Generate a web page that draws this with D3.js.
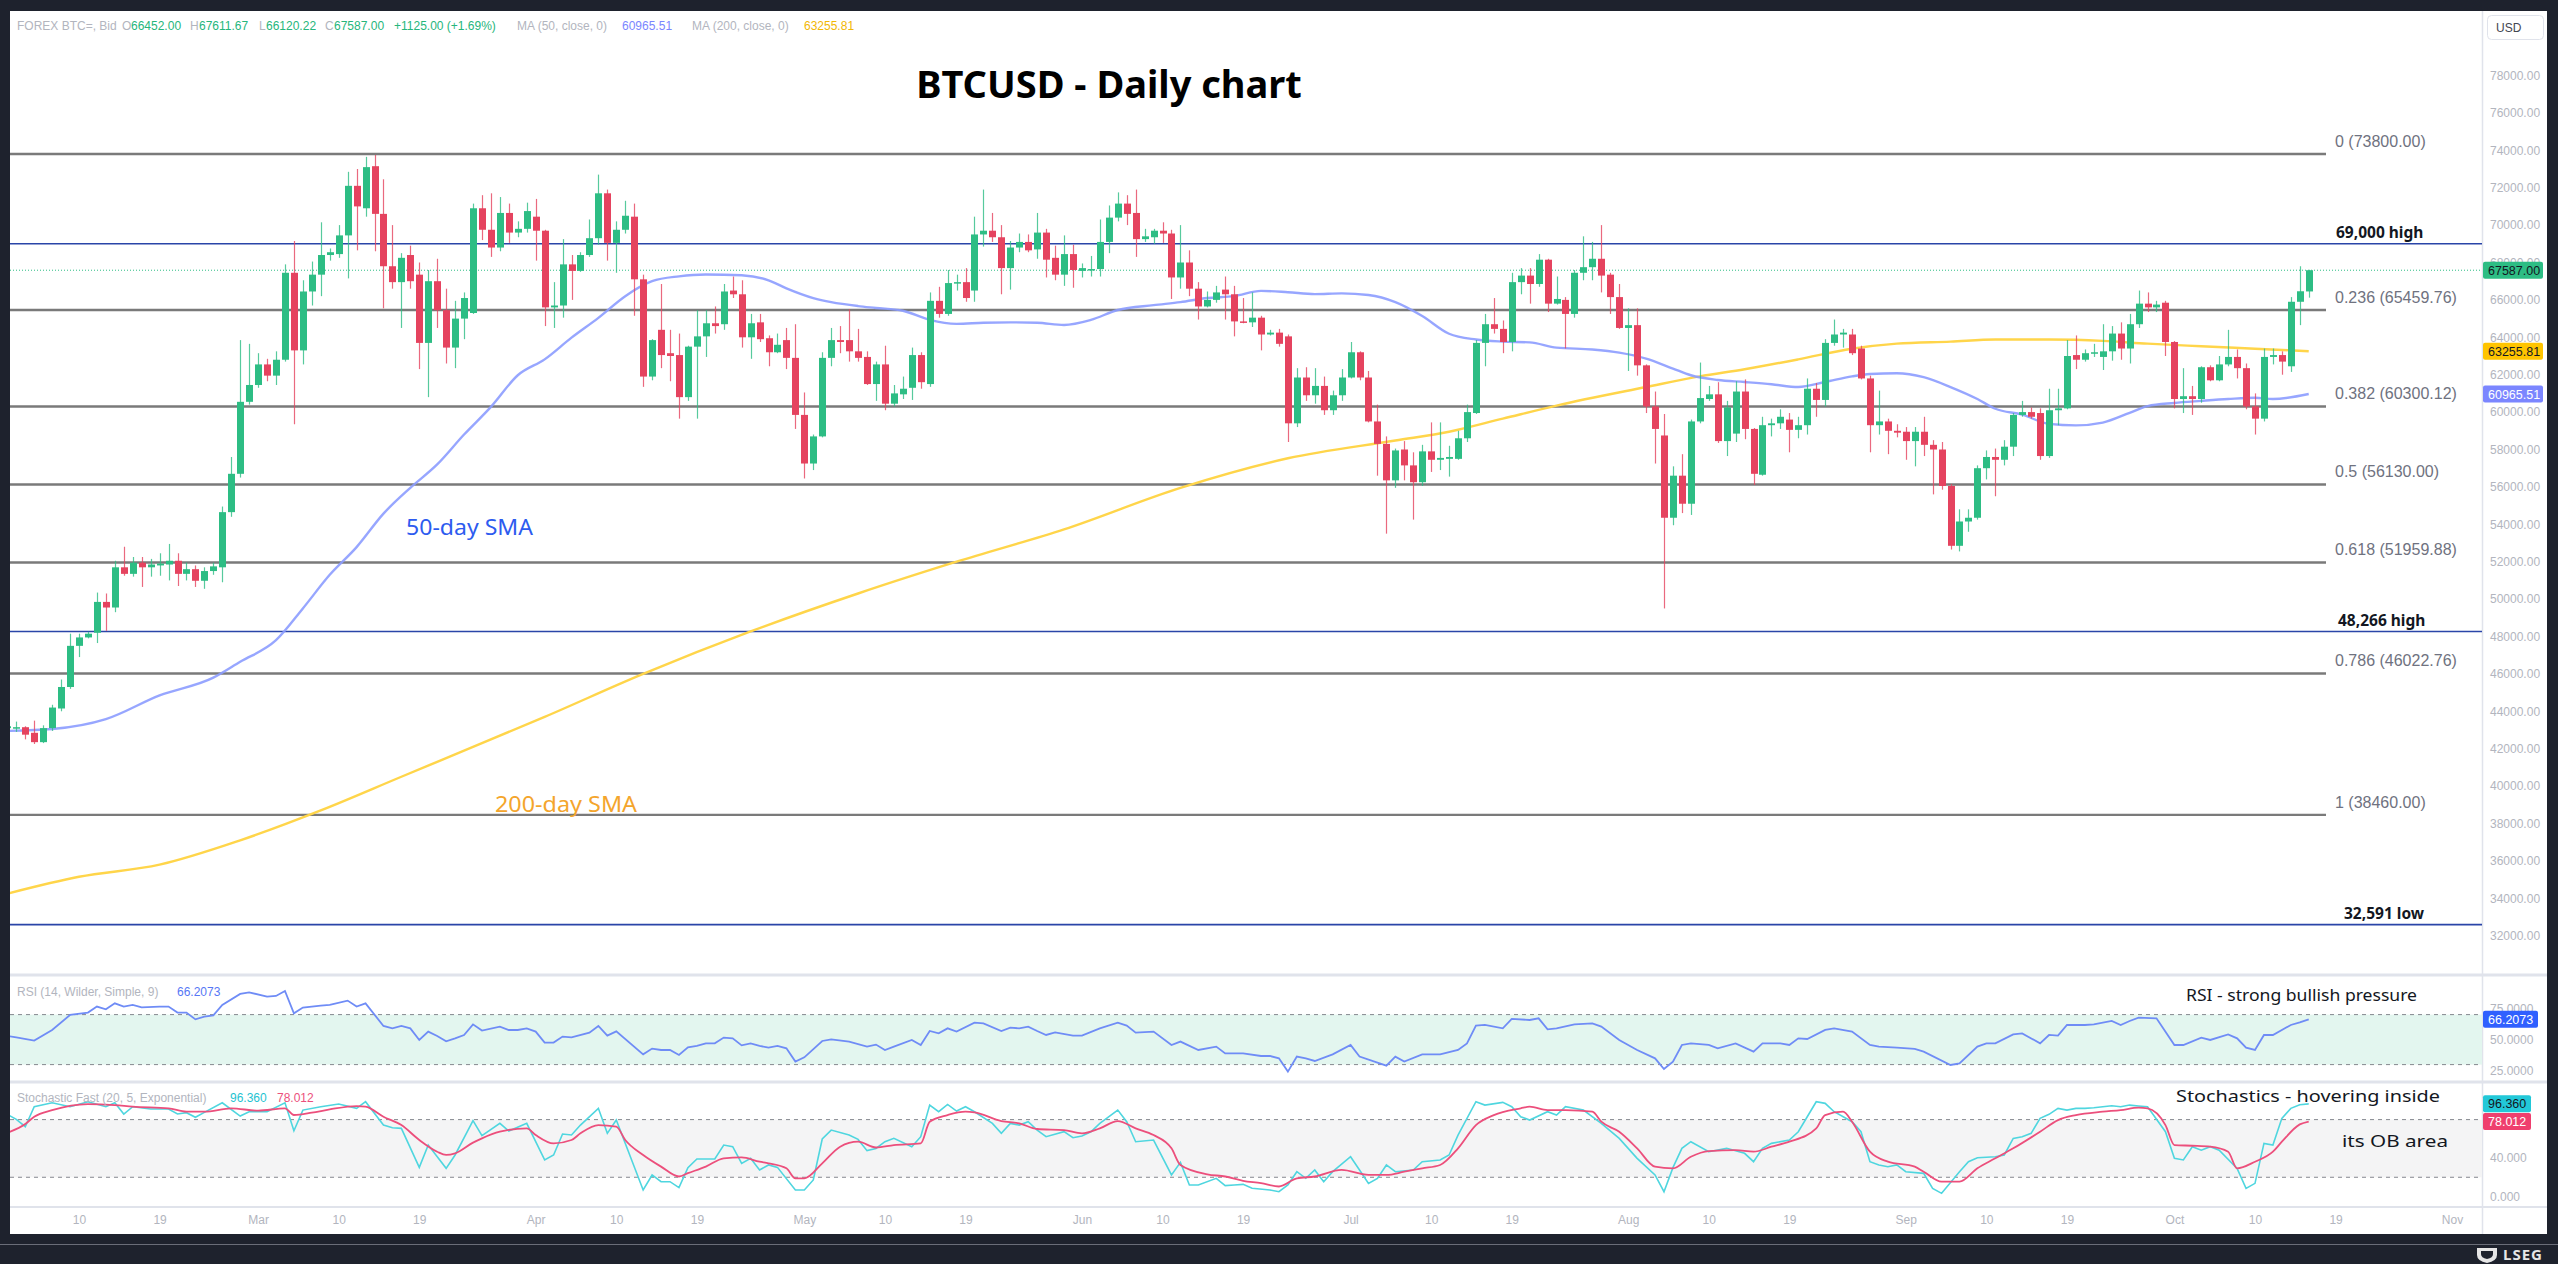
<!DOCTYPE html>
<html>
<head>
<meta charset="utf-8">
<title>BTCUSD - Daily chart</title>
<script src="https://cdn.jsdelivr.net/npm/d3@7"></script>
<style>
    html, body { margin: 0; padding: 0; background: #1e222d; }
    svg { display: block; }
</style>
</head>
<body>
<div class="svg-container"></div>
<script>
// ---- data ----
var firstDay = "2024-02-02";

var opens = [43100,43100,43150,42850,42350,43100,44150,45300,47500,47950,
    48200,49850,49550,51700,51350,51950,51700,51800,51850,52050,
    51350,51600,50980,51500,51700,54650,56700,60550,61450,62550,
    61950,62800,67450,63300,66450,67350,68400,68450,69450,72100,
    70900,73150,70600,67800,66950,68400,67350,63700,67000,65450,
    63450,65000,65300,70900,69750,68800,70650,69600,69800,70450,
    69700,65600,65700,67900,67550,68400,69300,71700,69050,69750,
    70450,67100,61900,64400,63150,63050,60800,63500,64050,64750,
    64700,66500,66300,64000,64800,63950,63200,63850,62900,59850,
    57250,58700,62900,63850,63850,63250,62950,61500,62550,60450,
    60950,61300,63050,61500,65950,65250,66900,66950,66500,69500,
    69700,69350,67700,68800,69100,68700,69600,68250,67350,68450,
    67550,67600,67650,69100,70400,71150,70650,69250,69350,69700,
    69550,67200,68000,66600,65650,66000,66550,66300,64850,64800,
    65050,64150,64250,64050,59400,61850,60900,61400,60100,60900,
    61850,63200,61850,59500,58300,56350,58000,57150,56250,57900,
    57450,57500,57500,58600,59950,63700,64700,64450,63750,66950,
    67300,66850,68150,65800,66000,65250,67450,67750,68200,67350,
    66150,64500,64650,62500,60300,58750,54350,56600,55100,59500,
    60700,60950,58450,58850,61100,59100,56650,59300,59400,59600,
    59050,59300,61250,60650,63700,64150,64150,63400,61800,59300,
    59500,59000,58950,58450,58950,58250,58000,56050,52850,54150,
    54350,57000,57600,57450,58150,59850,60000,59950,57650,60100,
    60200,63050,62800,63150,62950,63250,64200,63400,64700,65800,
    65600,65850,63750,60700,60850,60700,62400,61700,62550,62950,
    62350,60300,59650,62950,63050,62450,65900,66452];

var highs = [43400,43450,43200,43500,43250,44350,45700,48150,48150,48250,
    50350,50300,52050,52800,52250,52250,52150,52450,52950,52450,
    51950,51800,51700,51950,54950,57600,63850,63650,63150,62850,
    63250,67900,69150,67050,68050,70150,68750,70000,72850,73000,
    73650,73750,72450,70000,68500,68900,68000,67600,68200,66600,
    65950,66400,71150,71600,71700,71500,71150,70200,71200,71400,
    69750,66950,69250,68400,68550,70300,72700,71900,70200,71300,
    71150,67350,63900,66850,64400,64200,63550,65450,65450,65650,
    66850,67250,67050,65250,65250,64100,64200,64500,64700,61050,
    58800,63200,64500,64600,65500,64450,63250,62700,63550,61450,
    61900,63450,63200,66400,66700,67600,67350,67700,70450,71900,
    70650,70000,69150,69550,69500,70650,69800,68900,69450,68950,
    67950,68350,70300,71050,71750,71600,71900,69800,69800,70150,
    69750,70000,68650,66950,66450,66750,67250,66750,66100,66400,
    65150,64400,64450,64150,62350,62400,62350,61900,61150,62300,
    63750,63250,62200,60400,58700,58050,58450,57850,58250,59450,
    59450,58200,59000,60400,63850,65250,66100,64900,67450,67700,
    67700,68450,68200,67250,66150,67600,69400,69100,70000,67450,
    66850,65550,65550,62550,61100,59900,57100,57750,59600,62650,
    61400,61600,60600,61650,61750,59150,59750,59650,60150,59950,
    59750,61800,61550,63900,64950,64450,64450,63550,61950,61150,
    59650,59350,59200,59200,59750,58500,58400,56150,54800,54800,
    57150,57950,58050,58500,59950,60600,60250,60200,61250,61250,
    63850,64100,63350,63650,64700,64600,64800,65250,66500,66400,
    65950,65950,63800,62350,61400,62450,62500,63000,64400,63350,
    62600,61000,63400,63400,63250,66150,67800,67611.67];

var lows = [42600,42900,42500,42250,42300,42950,44000,45200,46900,47900,
    47650,48300,49300,51250,51200,50650,51200,51250,51000,50700,
    51000,50650,50550,51300,50900,54400,56500,60400,61300,61650,
    61450,62700,59350,62550,65700,66200,68100,68250,67150,68650,
    70450,68600,65550,66600,64500,66600,62300,60800,64500,62600,
    62350,63900,65250,69200,68300,68600,69050,69350,69600,68100,
    64600,64500,65050,66000,67500,68300,68950,68100,67450,69550,
    65150,61350,61700,62350,61650,59650,60600,59650,62950,64200,
    64400,66100,63450,62850,63750,62450,63150,62300,59100,56450,
    56900,58650,62450,63150,62700,62700,61450,60600,60100,60300,
    60700,60650,61250,61350,65050,65150,66500,65900,65900,68850,
    69100,66300,66550,68550,68550,68200,67200,67050,66750,66650,
    67200,67250,67250,68500,70200,70000,68300,69100,69000,69050,
    66050,66600,66200,64950,65600,65850,64950,64050,64750,64550,
    63300,64100,63500,58400,59200,60600,60450,59850,59850,60600,
    61800,61700,59450,56600,53500,55950,56350,54250,56050,56800,
    56900,56550,57450,58400,59900,62450,64200,63150,63250,66300,
    65800,66700,65350,65750,63400,65050,67050,67050,66400,65250,
    64450,62200,61950,59950,57250,49500,53950,54600,54500,59400,
    60600,58350,57650,58400,58550,56100,56600,58700,59100,57850,
    58600,58800,59750,60300,63550,63450,63050,61750,57850,58800,
    57750,58650,57450,57100,57650,55600,55850,52650,52550,53600,
    54250,56400,55500,57150,57650,59750,59650,57450,57550,59300,
    60150,62300,62700,62950,62250,62750,62800,62600,64500,65350,
    65350,63000,60200,59950,59850,60500,61650,61650,62450,61800,
    60150,58800,59500,62550,62000,62150,64650,66120.22];

var closes = [43200,43150,42750,42350,43100,44200,45300,47500,47950,48150,
    49850,49550,51700,51350,51950,51700,51850,51900,52050,51350,
    51600,50980,51500,51750,54650,56700,60550,61450,62550,61950,
    62800,67450,63300,66450,67350,68400,68550,69450,72100,71000,
    73100,70600,67800,66950,68250,67000,63700,67000,65450,63450,
    65000,66100,70900,69750,68800,70650,69600,69800,70750,69700,
    65600,65700,67900,67550,68400,69300,71700,69050,69750,70500,
    67100,61900,63850,63050,63000,60800,63500,64050,64750,64600,
    66450,66300,64000,64750,63900,63200,63600,62900,59850,57250,
    58700,62900,63850,63750,63250,62900,61500,62550,60450,61000,
    61250,63050,61600,65950,65250,66900,66950,66100,69500,69700,
    69350,67700,68800,69100,68650,69600,68150,67350,68450,67600,
    67700,67650,69100,70400,71150,70600,69250,69400,69700,69550,
    67200,68000,66600,65650,66000,66400,66300,64850,64800,65050,
    64150,64250,63650,59400,61850,60900,61400,60100,60900,61850,
    63200,61850,59500,58300,56350,57950,57150,56250,57900,57450,
    57550,57600,58600,60000,63700,64700,64450,63750,66950,67300,
    66850,68150,65800,66050,65250,67450,67750,68200,67300,66150,
    64500,64650,62500,60300,59100,54350,56600,55100,59500,60750,
    60950,58450,60250,61100,59100,56700,59300,59400,59750,59050,
    59300,61250,60650,63700,64150,64250,63150,61800,59300,59500,
    59000,58900,58450,58950,58250,58000,56050,52850,54150,54350,
    57000,57600,57450,58150,59850,60000,59750,57650,60100,60200,
    63000,62800,63150,63200,63250,64200,63400,64700,65800,65600,
    65750,63750,60700,60850,60700,62400,61700,62550,62950,62350,
    60300,59650,62950,63050,62700,65900,66462,67587];

// moving averages: [day index, value]
var ma50 = [[0,42950],[5,43050],[11,43580],[17,44850],[23,45800],[26,46650],[30,47800],[33,49500],
    [36,51300],[39,52780],[42,54570],[45,55950],[48,57200],[51,58800],[54,60280],[57,61970],
    [60,62820],[63,63980],[66,65040],[69,66200],[72,67000],[75,67260],[78,67360],[82,67320],
    [85,67050],[87,66620],[90,66100],[92,65880],[95,65670],[97,65570],[100,65420],[103,64930],
    [106,64720],[109,64780],[112,64800],[115,64780],[118,64660],[121,64930],[124,65460],[128,65720],
    [131,65880],[134,66100],[137,66200],[140,66480],[143,66410],[146,66310],[149,66350],[152,66260],
    [155,65880],[158,65140],[161,64190],[164,63880],[167,63770],[170,63730],[173,63450],[177,63350],
    [180,63180],[183,62860],[186,62330],[188,61970],[191,61720],[194,61610],[197,61490],[200,61340],
    [203,61610],[206,61910],[208,62040],[211,62080],[214,61870],[217,61340],[220,60700],[222,60180],
    [225,59860],[228,59370],[231,59290],[234,59440],[237,59960],[239,60320],[242,60490],[245,60600],
    [248,60700],[251,60770],[253,60700],[257,60965.51]];

var ma200 = [[0,34250],[8,35150],[17,35800],[26,37100],[35,38700],[44,40500],[48,41300],[60,43700],
    [71,46000],[83,48270],[95,50300],[106,52000],[118,53730],[131,55950],[143,57530],[155,58480],
    [161,58950],[167,59650],[173,60350],[183,61340],[189,61910],[194,62290],[200,62820],[206,63390],
    [211,63660],[217,63770],[222,63880],[228,63880],[234,63810],[239,63660],[245,63520],[251,63390],
    [257,63255.81]];

// RSI (14): [day index, value]
var rsi = [[0,52.9],[1,51.8],[3,49.2],[5,57.7],[7,69.7],[9,71.6],[10,76.4],[11,74.2],[12,79.0],[13,76.4],
    [14,77.7],[15,75.8],[17,76.4],[18,76.4],[19,71.6],[20,71.6],[21,66.2],[22,68.4],[23,69.4],[24,77.7],
    [26,86.5],[27,87.8],[29,84.4],[30,84.9],[31,88.9],[32,71.0],[33,75.6],[35,77.2],[36,77.7],[38,81.2],
    [39,76.4],[40,79.0],[42,60.9],[43,59.0],[44,60.9],[45,59.0],[46,49.7],[47,56.4],[48,52.9],[49,48.6],
    [50,51.0],[51,53.7],[52,62.2],[53,57.2],[55,60.4],[56,57.7],[57,57.7],[58,59.0],[59,56.4],[60,47.6],
    [61,47.6],[62,52.4],[63,51.8],[65,55.6],[66,60.9],[67,53.2],[68,56.6],[71,38.2],[72,42.8],[73,41.7],
    [74,41.7],[75,37.7],[76,43.8],[77,44.9],[78,47.0],[79,47.0],[80,51.6],[81,51.0],[82,45.4],[83,47.0],
    [84,44.9],[85,43.6],[86,44.9],[87,43.0],[88,32.4],[89,35.8],[91,48.9],[92,50.2],[94,48.4],[96,44.4],
    [97,46.0],[98,41.7],[99,44.4],[101,49.7],[102,45.7],[103,56.9],[104,55.0],[105,59.0],[106,56.4],[108,63.6],
    [109,63.0],[111,56.9],[112,59.6],[113,59.0],[114,60.4],[115,56.9],[116,53.7],[117,55.8],[119,53.2],[120,53.2],
    [122,59.0],[124,63.6],[125,61.2],[126,55.6],[128,56.4],[130,45.7],[131,48.4],[133,41.7],[135,44.4],[136,39.0],
    [138,39.0],[140,36.9],[141,36.9],[142,35.0],[143,24.4],[144,36.4],[145,35.0],[146,32.9],[148,38.2],[150,45.7],
    [151,36.4],[154,29.2],[155,36.4],[156,32.4],[158,38.2],[160,38.2],[162,41.7],[163,47.0],[164,61.2],[165,61.7],
    [167,59.0],[168,66.5],[170,65.7],[171,67.0],[172,58.2],[173,59.0],[175,62.2],[177,63.0],[178,60.4],[180,49.7],
    [182,41.7],[184,35.0],[185,26.5],[186,32.4],[187,45.7],[188,47.0],[190,45.7],[191,43.0],[193,47.0],[195,40.4],
    [196,47.0],[198,47.0],[199,45.7],[200,51.0],[201,50.5],[203,57.7],[204,59.0],[206,56.4],[208,45.7],[209,44.4],
    [211,43.6],[213,42.5],[214,40.4],[217,29.7],[218,31.0],[220,44.4],[221,47.0],[222,47.0],[224,54.2],[225,55.0],
    [227,47.0],[228,53.7],[229,53.2],[230,61.7],[232,61.7],[233,62.2],[235,64.9],[236,61.7],[237,64.9],[238,67.6],
    [240,67.0],[242,45.7],[243,45.7],[245,51.6],[246,49.7],[248,54.2],[249,51.0],[250,43.6],[251,41.7],[252,53.7],
    [253,53.7],[255,61.7],[256,63.8],[257,66.2073]];

// Stochastic fast %K and %D: [day index, value]
var stochK = [[0,85.5],[1,80.2],[2,72.6],[3,93.4],[5,97.5],[7,93.4],[9,98.6],[11,93.4],[12,97.5],[13,85.8],
    [14,93.4],[16,91.0],[18,91.0],[19,85.8],[20,87.2],[21,82.4],[22,87.5],[24,97.5],[26,83.7],[27,88.2],
    [29,88.2],[31,97.5],[32,68.4],[33,89.9],[35,93.4],[37,96.2],[39,91.7],[40,98.6],[42,74.3],[43,71.6],
    [44,70.9],[46,30.3],[47,53.5],[49,29.3],[50,43.2],[52,78.9],[53,63.3],[55,76.1],[56,68.1],[58,76.1],
    [60,38.0],[61,43.2],[62,65.0],[63,64.0],[64,74.3],[66,91.7],[67,65.7],[68,79.6],[71,6.8],[72,22.4],
    [73,15.4],[74,15.4],[75,9.2],[76,30.0],[77,39.0],[79,39.0],[80,53.5],[81,51.8],[82,34.5],[83,39.7],
    [84,27.6],[85,32.8],[86,30.3],[88,6.8],[89,6.8],[90,17.2],[91,59.8],[92,69.1],[94,64.0],[95,59.4],
    [96,47.7],[97,50.0],[98,57.0],[99,60.5],[101,51.8],[102,62.2],[103,95.1],[104,88.2],[105,95.8],[106,88.9],
    [107,93.4],[108,88.2],[110,76.1],[111,65.7],[112,76.1],[113,74.3],[114,77.8],[115,69.1],[116,62.2],[118,67.4],
    [119,61.1],[120,62.9],[121,67.4],[122,76.1],[124,89.9],[125,77.8],[126,57.0],[128,58.7],[130,22.4],[131,35.5],
    [132,12.0],[133,12.0],[135,18.9],[136,11.3],[137,12.0],[138,12.6],[139,8.5],[141,6.8],[142,5.0],[143,12.0],
    [144,25.8],[145,18.9],[146,27.6],[147,15.4],[148,25.8],[150,41.4],[151,27.6],[152,13.7],[153,18.9],[154,32.8],
    [155,25.8],[157,27.6],[158,36.2],[160,38.0],[161,43.2],[162,63.9],[164,98.6],[165,95.1],[167,97.9],[168,93.4],
    [169,83.0],[170,79.5],[172,88.2],[173,84.7],[174,93.4],[176,89.9],[178,76.1],[180,60.5],[182,39.7],[184,22.4],
    [185,5.0],[186,30.0],[187,50.1],[188,57.0],[190,46.6],[192,50.1],[194,44.9],[195,36.2],[196,50.1],[197,55.3],
    [199,58.7],[200,67.4],[201,83.0],[202,98.6],[203,96.9],[204,88.2],[206,77.8],[207,67.4],[208,36.2],[209,32.8],
    [210,31.0],[211,32.8],[212,25.8],[214,24.1],[215,8.5],[216,3.3],[218,25.8],[219,36.2],[220,40.3],[222,41.4],
    [223,43.2],[224,60.5],[225,62.2],[226,65.7],[227,81.3],[228,85.5],[229,91.7],[230,89.9],[231,91.7],[232,91.7],
    [233,92.4],[235,94.4],[236,93.4],[237,95.1],[238,94.2],[239,93.4],[241,67.4],[242,39.7],[243,38.0],[244,51.8],
    [245,48.2],[246,51.8],[247,48.2],[249,29.3],[250,8.5],[251,13.7],[252,55.3],[253,53.5],[254,81.3],[255,91.7],
    [256,95.5],[257,96.36]];

var stochD = [[0,66.4],[2,75.4],[3,83.0],[5,89.9],[9,96.2],[12,95.1],[14,93.4],[18,91.7],[20,88.2],[22,88.2],
    [25,91.7],[28,89.3],[31,91.7],[32,84.8],[34,87.2],[36,90.6],[39,94.1],[40,93.4],[42,83.0],[44,74.3],
    [46,58.8],[48,46.6],[49,43.2],[50,44.9],[52,56.0],[53,60.5],[55,67.4],[58,70.9],[59,64.0],[61,55.3],
    [63,58.8],[64,65.7],[66,74.3],[68,72.6],[69,58.8],[71,43.2],[73,31.1],[75,20.8],[76,24.3],[78,31.1],
    [80,39.7],[82,40.7],[84,36.2],[85,34.5],[87,29.3],[88,18.9],[89,18.9],[91,34.5],[93,51.8],[95,57.0],
    [97,51.0],[99,53.5],[102,55.3],[103,77.8],[105,84.7],[107,88.2],[108,87.5],[111,78.5],[113,76.1],[115,70.2],
    [118,69.1],[120,65.7],[122,70.9],[124,78.5],[126,70.9],[128,63.9],[130,50.1],[131,32.8],[134,23.1],[136,20.8],
    [138,16.3],[140,13.9],[142,10.4],[144,18.9],[146,20.8],[149,27.6],[152,22.4],[154,22.4],[156,25.8],[158,29.3],
    [160,32.8],[162,50.1],[164,74.3],[166,84.7],[169,91.7],[170,93.4],[172,89.9],[174,89.9],[177,88.2],[178,77.8],
    [180,67.4],[182,50.1],[184,31.0],[186,29.3],[188,41.4],[190,47.3],[193,48.2],[195,46.6],[197,51.8],[199,57.0],
    [202,70.9],[203,84.7],[205,88.2],[206,77.8],[208,46.6],[210,36.2],[213,31.0],[214,25.8],[216,15.4],[218,15.4],
    [220,29.3],[222,39.7],[224,50.1],[227,67.4],[229,79.5],[231,84.7],[234,88.2],[236,89.9],[238,92.4],[239,91.7],
    [241,74.3],[242,53.5],[244,52.8],[246,51.8],[248,46.6],[249,29.3],[251,36.2],[253,46.6],[254,57.0],[256,75.0],
    [257,78.012]];

// Fibonacci retracement and marked levels
var fibRatios = [0, 0.236, 0.382, 0.5, 0.618, 0.786, 1];
var fibPrices = [73800, 65459.76, 60300.12, 56130, 51959.88, 46022.76, 38460];
var keyPrices = [69000, 48266, 32591];
var keyNames = ["69,000 high", "48,266 high", "32,591 low"];

// axis ticks
var priceTicks = d3.range(32000, 78001, 2000);
var rsiTicks = [25, 50, 75];
var stochTicks = [0, 40];
var timeTicks = ["2024-02-10","2024-02-19","2024-03-01","2024-03-10","2024-03-19","2024-04-01",
    "2024-04-10","2024-04-19","2024-05-01","2024-05-10","2024-05-19","2024-06-01","2024-06-10",
    "2024-06-19","2024-07-01","2024-07-10","2024-07-19","2024-08-01","2024-08-10","2024-08-19",
    "2024-09-01","2024-09-10","2024-09-19","2024-10-01","2024-10-10","2024-10-19","2024-11-01"];

(function() {
    var W = 2558, H = 1264;
    var left = 10, axisX = 2482, right = 2547;
    var GREEN = "#2dbd84", RED = "#e5435f";
    var small = "'Liberation Sans', Arial, sans-serif";
    var noto = "'Noto Sans', 'DejaVu Sans', sans-serif";

    var svg = null;
    var x, yPrice, yRsi, yStoch, day0;

    function dayAt(i) { return d3.utcDay.offset(day0, i); }

    function setupScales() {
        var parse = d3.utcParse("%Y-%m-%d");
        day0 = parse(firstDay);
        x = d3.scaleUtc().domain([parse("2024-02-10"), parse("2024-10-10")]).range([79, 2255]);
        yPrice = d3.scaleLinear().domain([32000, 78000]).range([935.7, 75.5]);
        yRsi = d3.scaleLinear().domain([30, 70]).range([1064.6, 1014.6]);
        yStoch = d3.scaleLinear().domain([0, 80]).range([1196.5, 1119.6]);
    }

    function cacheDom() {
        svg = d3.select(".svg-container").append("svg")
            .attr("width", W).attr("height", H)
            .attr("viewBox", "0 0 " + W + " " + H);

        var defs = svg.append("defs");
        defs.append("clipPath").attr("id", "clipMain").append("rect")
            .attr("x", left).attr("y", 12).attr("width", axisX - left).attr("height", 962);
        defs.append("clipPath").attr("id", "clipRsi").append("rect")
            .attr("x", left).attr("y", 977).attr("width", axisX - left).attr("height", 104);
        defs.append("clipPath").attr("id", "clipStoch").append("rect")
            .attr("x", left).attr("y", 1084).attr("width", axisX - left).attr("height", 122);
    }

    function drawFrame() {
        svg.append("rect").attr("width", W).attr("height", H).attr("fill", "#1e222d");
        svg.append("rect").attr("x", left).attr("y", 11)
            .attr("width", right - left).attr("height", 1223).attr("fill", "#ffffff");

        // panel separators
        [975, 1082].forEach(function(yy) {
            svg.append("line").attr("x1", left).attr("x2", right).attr("y1", yy).attr("y2", yy)
                .attr("stroke", "#e0e3eb").attr("stroke-width", 3);
        });
        svg.append("line").attr("x1", left).attr("x2", right).attr("y1", 1207).attr("y2", 1207)
            .attr("stroke", "#e0e3eb").attr("stroke-width", 2);
        svg.append("line").attr("x1", axisX + 0.5).attr("x2", axisX + 0.5).attr("y1", 11).attr("y2", 1234)
            .attr("stroke", "#e0e3eb").attr("stroke-width", 1.5);

        // footer
        svg.append("line").attr("x1", 0).attr("x2", W).attr("y1", 1244.5).attr("y2", 1244.5)
            .attr("stroke", "#6a6d78").attr("stroke-width", 1);
        var logo = svg.append("g").attr("fill", "#e6e6e6");
        logo.append("path").attr("d", "M2477,1248 h20 v7 q0,6 -10,8 q-10,-2 -10,-8 z");
        logo.append("path").attr("d", "M2481,1251 h12 v3 q0,4 -6,5 q-6,-1 -6,-5 z").attr("fill", "#1e222d");
        logo.append("text").attr("x", 2503).attr("y", 1260)
            .style("font", "bold 15px " + noto).style("letter-spacing", "1px").text("LSEG");
    }

    function drawLevels() {
        var g = svg.append("g");

        // fibonacci lines and labels
        fibPrices.forEach(function(p, k) {
            var yy = yPrice(p);
            g.append("line").attr("x1", left).attr("x2", 2326).attr("y1", yy).attr("y2", yy)
                .attr("stroke", "#7a7a7a").attr("stroke-width", 2.4);
            g.append("text").attr("x", 2335).attr("y", yy - 7)
                .attr("fill", "#6f7280").style("font", "16px " + small)
                .text(fibRatios[k] + " (" + d3.format(".2f")(p) + ")");
        });

        // marked highs / lows
        var keyX = [2336, 2338, 2344];
        keyPrices.forEach(function(p, k) {
            var yy = yPrice(p);
            g.append("line").attr("x1", left).attr("x2", axisX).attr("y1", yy).attr("y2", yy)
                .attr("stroke", "#2a45a8").attr("stroke-width", 1.6);
            g.append("text").attr("x", keyX[k]).attr("y", yy - 6)
                .attr("fill", "#131722").style("font", "bold 15.5px " + noto)
                .text(keyNames[k]);
        });

        // last price line
        var last = closes.length - 1;
        var yl = yPrice(closes[last]);
        g.append("line").attr("x1", left).attr("x2", axisX).attr("y1", yl).attr("y2", yl)
            .attr("stroke", GREEN).attr("stroke-width", 1).attr("stroke-dasharray", "1,2");
    }

    function drawMovingAverages() {
        var g = svg.append("g").attr("clip-path", "url(#clipMain)");
        var line = d3.line()
            .x(function(d) { return x(dayAt(d[0])); })
            .y(function(d) { return yPrice(d[1]); })
            .curve(d3.curveMonotoneX);
        g.append("path").datum(ma200).attr("d", line).attr("fill", "none")
            .attr("stroke", "#ffd54a").attr("stroke-width", 2.4);
        g.append("path").datum(ma50).attr("d", line).attr("fill", "none")
            .attr("stroke", "#8c9cff").attr("stroke-width", 2.4).attr("stroke-opacity", 0.9);
    }

    function drawCandles() {
        var g = svg.append("g").attr("clip-path", "url(#clipMain)");
        var idx = d3.range(opens.length);

        var c = g.selectAll("g.candle").data(idx).enter().append("g").attr("class", "candle");
        function col(i) { return closes[i] >= opens[i] ? GREEN : RED; }
        function cx(i) { return Math.round(x(dayAt(i))); }

        c.append("line")
            .attr("x1", function(i) { return cx(i) + 0.5; })
            .attr("x2", function(i) { return cx(i) + 0.5; })
            .attr("y1", function(i) { return yPrice(highs[i]); })
            .attr("y2", function(i) { return yPrice(lows[i]); })
            .attr("stroke", col).attr("stroke-width", 1.2).attr("stroke-opacity", 0.8);

        c.append("rect")
            .attr("x", function(i) { return cx(i) - 3; })
            .attr("width", 7)
            .attr("y", function(i) { return yPrice(Math.max(opens[i], closes[i])); })
            .attr("height", function(i) {
                return Math.max(1.5, Math.abs(yPrice(opens[i]) - yPrice(closes[i])));
            })
            .attr("fill", col);
    }

    function drawIndicators() {
        // RSI panel
        var r = svg.append("g");
        r.append("rect").attr("x", left).attr("width", axisX - left)
            .attr("y", yRsi(70)).attr("height", yRsi(30) - yRsi(70)).attr("fill", "#e3f6ef");
        [70, 30].forEach(function(v) {
            r.append("line").attr("x1", left).attr("x2", axisX).attr("y1", yRsi(v)).attr("y2", yRsi(v))
                .attr("stroke", "#85888f").attr("stroke-dasharray", "4,4");
        });
        var rsiLine = d3.line()
            .x(function(d) { return x(dayAt(d[0])); })
            .y(function(d) { return yRsi(d[1]); });
        r.append("g").attr("clip-path", "url(#clipRsi)")
            .append("path").datum(rsi).attr("d", rsiLine).attr("fill", "none")
            .attr("stroke", "#6f8cf6").attr("stroke-width", 1.8);

        // Stochastic panel
        var s = svg.append("g");
        s.append("rect").attr("x", left).attr("width", axisX - left)
            .attr("y", yStoch(80)).attr("height", yStoch(20) - yStoch(80)).attr("fill", "#f4f4f5");
        [80, 20].forEach(function(v) {
            s.append("line").attr("x1", left).attr("x2", axisX).attr("y1", yStoch(v)).attr("y2", yStoch(v))
                .attr("stroke", "#85888f").attr("stroke-dasharray", "4,4");
        });
        var stLine = d3.line()
            .x(function(d) { return x(dayAt(d[0])); })
            .y(function(d) { return yStoch(d[1]); });
        var sg = s.append("g").attr("clip-path", "url(#clipStoch)");
        sg.append("path").datum(stochK).attr("d", stLine).attr("fill", "none")
            .attr("stroke", "#4fd6df").attr("stroke-width", 1.6);
        sg.append("path").datum(stochD).attr("d", stLine.curve(d3.curveMonotoneX)).attr("fill", "none")
            .attr("stroke", "#ec4f7c").attr("stroke-width", 1.8);
    }

    function styleAxis(g) {
        g.select(".domain").remove();
        g.selectAll("text").attr("fill", "#b2b5be").style("font", "12px " + small);
    }

    function drawAxes() {
        var pa = d3.axisRight(yPrice).tickValues(priceTicks).tickSize(0).tickPadding(8)
            .tickFormat(d3.format(".2f"));
        styleAxis(svg.append("g").attr("transform", "translate(" + axisX + ",0)").call(pa));

        var ra = d3.axisRight(yRsi).tickValues(rsiTicks).tickSize(0).tickPadding(8)
            .tickFormat(d3.format(".4f"));
        styleAxis(svg.append("g").attr("transform", "translate(" + axisX + ",0)").call(ra));

        var sa = d3.axisRight(yStoch).tickValues(stochTicks).tickSize(0).tickPadding(8)
            .tickFormat(d3.format(".3f"));
        styleAxis(svg.append("g").attr("transform", "translate(" + axisX + ",0)").call(sa));

        var parse = d3.utcParse("%Y-%m-%d");
        var ta = d3.axisBottom(x).tickValues(timeTicks.map(parse)).tickSize(0).tickPadding(8)
            .tickFormat(function(d) {
                return d.getUTCDate() === 1 ? d3.utcFormat("%b")(d) : d3.utcFormat("%-d")(d);
            });
        styleAxis(svg.append("g").attr("transform", "translate(0,1207)").call(ta));

        // currency box
        svg.append("rect").attr("x", 2487.5).attr("y", 15.5).attr("width", 56).attr("height", 24)
            .attr("rx", 4).attr("fill", "#ffffff").attr("stroke", "#e0e3eb");
        svg.append("text").attr("x", 2496).attr("y", 32).attr("fill", "#434651")
            .style("font", "12px " + small).text("USD");
    }

    function valueBox(v, scale, fmt, fill, ink, w) {
        var yy = scale(v);
        svg.append("rect").attr("x", axisX + 1).attr("y", yy - 8.5).attr("width", w).attr("height", 17)
            .attr("rx", 2).attr("fill", fill);
        svg.append("text").attr("x", axisX + 6).attr("y", yy + 4.5).attr("fill", ink)
            .style("font", "12.5px " + small).text(d3.format(fmt)(v));
    }

    function drawValueBoxes() {
        var last = closes.length - 1;
        valueBox(closes[last], yPrice, ".2f", GREEN, "#131722", 60);
        valueBox(ma200[ma200.length - 1][1], yPrice, ".2f", "#ffc400", "#131722", 60);
        valueBox(ma50[ma50.length - 1][1], yPrice, ".2f", "#7b86ff", "#ffffff", 60);
        valueBox(rsi[rsi.length - 1][1], yRsi, ".4f", "#3060ff", "#ffffff", 55);
        valueBox(stochK[stochK.length - 1][1], yStoch, ".3f", "#22c8d8", "#131722", 48);
        valueBox(stochD[stochD.length - 1][1], yStoch, ".3f", "#ef3f6e", "#ffffff", 48);
    }

    function legend(yy, parts) {
        var t = svg.append("text").attr("y", yy).style("font", "12px " + small);
        parts.forEach(function(p) {
            t.append("tspan").attr("x", p[0]).attr("fill", p[2]).text(p[1]);
        });
    }

    function drawTexts() {
        var last = closes.length - 1;
        var f2 = d3.format(".2f");
        var chg = closes[last] - closes[last - 1];
        var pct = chg / closes[last - 1] * 100;
        var gray = "#b2b5be", grn = "#26b67c";

        legend(30, [
            [17, "FOREX BTC=, Bid", gray],
            [122, "O", gray], [131, f2(opens[last]), grn],
            [190, "H", gray], [199, f2(highs[last]), grn],
            [259, "L", gray], [266, f2(lows[last]), grn],
            [325, "C", gray], [334, f2(closes[last]), grn],
            [394, "+" + f2(chg) + " (+" + f2(pct) + "%)", grn],
            [517, "MA (50, close, 0)", gray], [622, f2(ma50[ma50.length - 1][1]), "#7b86ff"],
            [692, "MA (200, close, 0)", gray], [804, f2(ma200[ma200.length - 1][1]), "#f2b705"]
        ]);
        legend(996, [
            [17, "RSI (14, Wilder, Simple, 9)", gray],
            [177, d3.format(".4f")(rsi[rsi.length - 1][1]), "#5677f5"]
        ]);
        legend(1102, [
            [17, "Stochastic Fast (20, 5, Exponential)", gray],
            [230, d3.format(".3f")(stochK[stochK.length - 1][1]), "#1fc3d1"],
            [277, d3.format(".3f")(stochD[stochD.length - 1][1]), "#ec4f7c"]
        ]);

        // title
        svg.append("text").attr("x", 1109).attr("y", 98).attr("text-anchor", "middle")
            .attr("fill", "#000000").style("font", "bold 38px " + noto).text("BTCUSD - Daily chart");

        // annotations
        svg.append("text").attr("x", 406).attr("y", 535).attr("fill", "#2d5bef")
            .attr("textLength", 127).attr("lengthAdjust", "spacingAndGlyphs")
            .style("font", "22px " + noto).text("50-day SMA");
        svg.append("text").attr("x", 495).attr("y", 812).attr("fill", "#f4a52c")
            .attr("textLength", 142).attr("lengthAdjust", "spacingAndGlyphs")
            .style("font", "22px " + noto).text("200-day SMA");

        var notes = [
            [2186, 1001, 231, "RSI - strong bullish pressure"],
            [2176, 1102, 264, "Stochastics - hovering inside"],
            [2342, 1147, 106, "its OB area"]
        ];
        notes.forEach(function(n) {
            svg.append("text").attr("x", n[0]).attr("y", n[1]).attr("fill", "#131722")
                .attr("textLength", n[2]).attr("lengthAdjust", "spacingAndGlyphs")
                .style("font", "17px " + noto).text(n[3]);
        });
    }

    function init() {
        setupScales();
        cacheDom();
        drawFrame();
        drawIndicators();
        drawLevels();
        drawMovingAverages();
        drawCandles();
        drawAxes();
        drawValueBoxes();
        drawTexts();
    }

    init();
})();
</script>
</body>
</html>
